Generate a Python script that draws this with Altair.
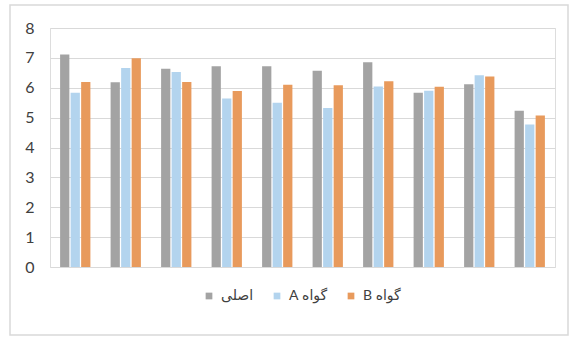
import altair as alt
import pandas as pd

groups = [1, 2, 3, 4, 5, 6, 7, 8, 9, 10]
series_names = ["اصلی", "گواه A", "گواه B"]
main_vals = [7.11, 6.18, 6.64, 6.72, 6.72, 6.57, 6.85, 5.83, 6.12, 5.23]
ctrl_a_vals = [5.83, 6.66, 6.53, 5.64, 5.50, 5.32, 6.04, 5.90, 6.42, 4.77]
ctrl_b_vals = [6.19, 6.99, 6.19, 5.89, 6.10, 6.08, 6.22, 6.03, 6.38, 5.07]
y_ticks = [0, 1, 2, 3, 4, 5, 6, 7, 8]
colors = ["#a3a3a3", "#b3d4ee", "#e89a5c"]

rows = []
for name, vals in zip(series_names, [main_vals, ctrl_a_vals, ctrl_b_vals]):
    for g, v in zip(groups, vals):
        rows.append({"group": g, "series": name, "value": v})
df = pd.DataFrame(rows)

FONT = "Lato, DejaVu Sans, sans-serif"

frame = alt.Chart(pd.DataFrame({"a": [0]})).mark_rect(
    fillOpacity=0, stroke="#d9d9d9", strokeWidth=1.5
).encode(
    x=alt.value(-40), x2=alt.value(518), y=alt.value(-23), y2=alt.value(307)
)

bars = alt.Chart(df).mark_bar().encode(
    x=alt.X("group:N", axis=None,
            scale=alt.Scale(paddingInner=0.4, paddingOuter=0.2)),
    xOffset=alt.XOffset("series:N", sort=series_names,
                        scale=alt.Scale(paddingInner=0.12)),
    y=alt.Y("value:Q",
            scale=alt.Scale(domain=[0, 8], nice=False),
            axis=alt.Axis(values=y_ticks, title=None, domain=False, ticks=False,
                          grid=True, gridColor="#d9d9d9", gridWidth=1,
                          labelFontSize=16, labelColor="#404040", labelFont=FONT,
                          labelPadding=16)),
    color=alt.Color("series:N", sort=series_names,
                    scale=alt.Scale(domain=series_names, range=colors),
                    legend=alt.Legend(
                        title=None, orient="none", direction="horizontal",
                        legendX=152, legendY=261,
                        symbolType="square", symbolSize=45, symbolStrokeWidth=0,
                        labelFontSize=14, labelColor="#404040", labelFont=FONT,
                        columnPadding=16, labelOffset=5,
                        labelExpr="'\u202b' + datum.label + '\u202c'")),
)

chart = alt.layer(bars, frame).properties(
    width=505, height=239,
    autosize=alt.AutoSizeParams(type="none"),
    padding={"left": 50, "top": 28, "right": 16, "bottom": 70},
).configure_view(stroke=None).configure(background="white")

chart.save("out.html", embed_options={"renderer": "svg", "actions": False})
